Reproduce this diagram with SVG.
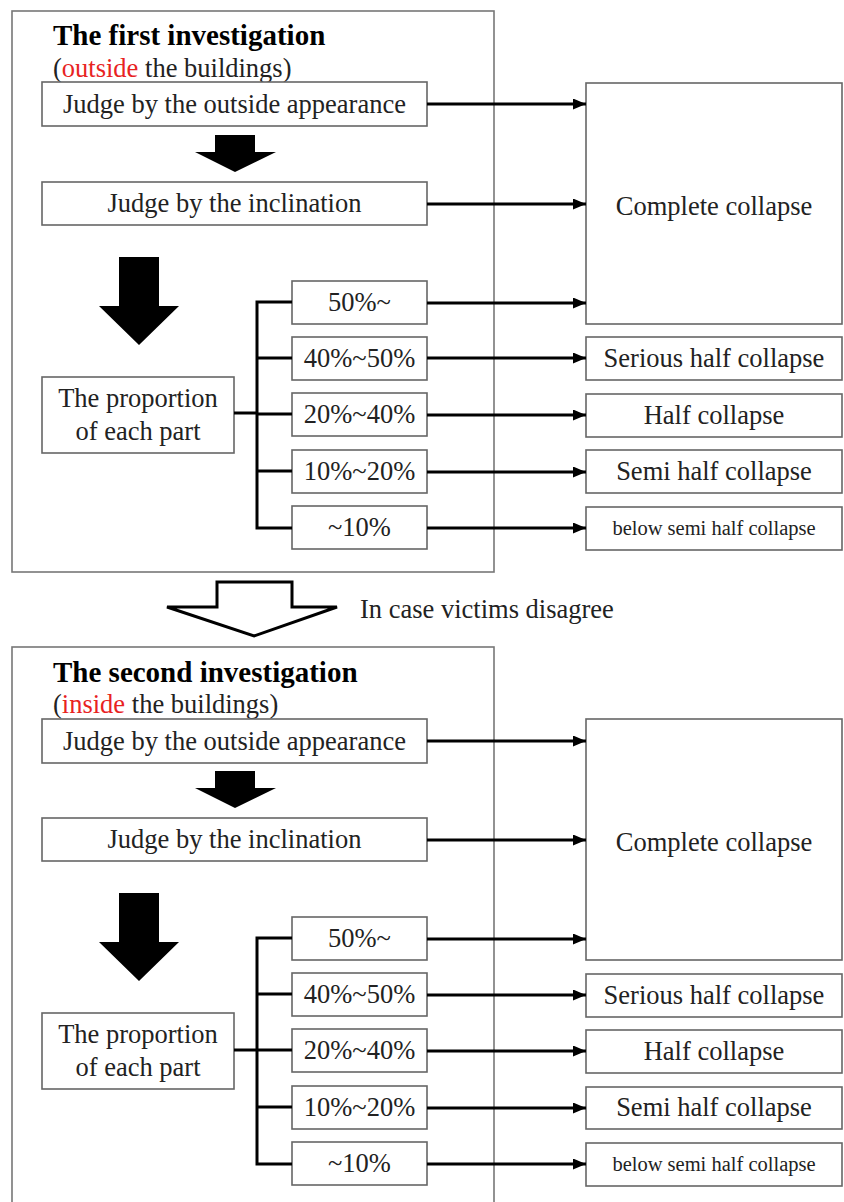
<svg xmlns="http://www.w3.org/2000/svg" width="844" height="1202" viewBox="0 0 844 1202">
<style>
  text { font-family: "Liberation Serif", "Times New Roman", serif; fill: #222; }
  .t { font-size: 26.5px; text-anchor: middle; }
  .small { font-size: 20.5px; text-anchor: middle; }
  .title { font-size: 29px; font-weight: bold; fill: #000; }
  .sub { font-size: 26.5px; }
  .red { fill: #e8231f; }
  .box { fill: #fff; stroke: #666; stroke-width: 1.6; }
  .panel { fill: none; stroke: #777; stroke-width: 1.6; }
  .conn { fill: none; stroke: #000; stroke-width: 3; }
  .arr { fill: none; stroke: #000; stroke-width: 3; marker-end: url(#ah); }
  .solid { fill: #000; }
  .hollow { fill: #fff; stroke: #000; stroke-width: 3; stroke-linejoin: miter; }
</style>
<defs>
  <marker id="ah" markerUnits="userSpaceOnUse" markerWidth="13" markerHeight="11" refX="13" refY="5.5" orient="auto">
    <path d="M0,0 L13,5.5 L0,11 z" fill="#000"/>
  </marker>
</defs>
<rect width="844" height="1202" fill="#fff"/>

<!-- Panel 1 -->
<g id="panel1">
  <rect class="panel" x="12" y="11" width="482" height="561"/>
  <text class="title" x="53" y="45">The first investigation</text>
  <text class="sub" x="53" y="77">(<tspan class="red">outside</tspan> the buildings)</text>
</g>
<g id="p1-appearance"><rect class="box" x="42" y="82" width="385" height="44"/><text class="t" x="234.5" y="113">Judge by the outside appearance</text></g>
<g id="p1-small-arrow"><polygon class="solid" points="215,135 255,135 255,152 276,152 235,172 195,152 215,152"/></g>
<g id="p1-inclination"><rect class="box" x="42" y="182" width="385" height="43"/><text class="t" x="234.5" y="212">Judge by the inclination</text></g>
<g id="p1-big-arrow"><polygon class="solid" points="119,257 159,257 159,306 179,306 139,345 99,306 119,306"/></g>
<g id="p1-proportion"><rect class="box" x="42" y="377" width="192" height="76"/><text class="t" x="138" y="407">The proportion</text><text class="t" x="138" y="440">of each part</text></g>
<g id="p1-50"><rect class="box" x="292" y="281" width="135" height="43"/><text class="t" x="359.5" y="311">50%~</text></g>
<g id="p1-40-50"><rect class="box" x="292" y="337" width="135" height="43"/><text class="t" x="359.5" y="367">40%~50%</text></g>
<g id="p1-20-40"><rect class="box" x="292" y="393" width="135" height="43"/><text class="t" x="359.5" y="423">20%~40%</text></g>
<g id="p1-10-20"><rect class="box" x="292" y="450" width="135" height="43"/><text class="t" x="359.5" y="480">10%~20%</text></g>
<g id="p1-10"><rect class="box" x="292" y="506" width="135" height="43"/><text class="t" x="359.5" y="536">~10%</text></g>
<g id="p1-complete"><rect class="box" x="586" y="83" width="256" height="241"/><text class="t" x="714" y="215">Complete collapse</text></g>
<g id="p1-serious"><rect class="box" x="586" y="337" width="256" height="43"/><text class="t" x="714" y="367">Serious half collapse</text></g>
<g id="p1-half"><rect class="box" x="586" y="394" width="256" height="43"/><text class="t" x="714" y="424">Half collapse</text></g>
<g id="p1-semi"><rect class="box" x="586" y="450" width="256" height="43"/><text class="t" x="714" y="480">Semi half collapse</text></g>
<g id="p1-below"><rect class="box" x="586" y="507" width="256" height="43"/><text class="small" x="714" y="535">below semi half collapse</text></g>

<!-- Transition -->
<g id="hollow-arrow"><polygon class="hollow" points="217,582 292,582 292,607 337,607 254,636 167,607 217,607"/></g>
<g id="disagree-label"><text class="sub" x="360" y="618">In case victims disagree</text></g>

<!-- Panel 2 -->
<g transform="translate(0,636)">
  <g id="panel2">
    <rect class="panel" x="12" y="11" width="482" height="600"/>
    <text class="title" x="53" y="46">The second investigation</text>
    <text class="sub" x="53" y="77">(<tspan class="red">inside</tspan> the buildings)</text>
  </g>
  <g id="p2-appearance"><rect class="box" x="42" y="83" width="385" height="44"/><text class="t" x="234.5" y="114">Judge by the outside appearance</text></g>
  <g id="p2-small-arrow"><polygon class="solid" points="215,135 255,135 255,152 276,152 235,172 195,152 215,152"/></g>
  <g id="p2-inclination"><rect class="box" x="42" y="182" width="385" height="43"/><text class="t" x="234.5" y="212">Judge by the inclination</text></g>
  <g id="p2-big-arrow"><polygon class="solid" points="119,257 159,257 159,306 179,306 139,345 99,306 119,306"/></g>
  <g id="p2-proportion"><rect class="box" x="42" y="377" width="192" height="76"/><text class="t" x="138" y="407">The proportion</text><text class="t" x="138" y="440">of each part</text></g>
  <g id="p2-50"><rect class="box" x="292" y="281" width="135" height="43"/><text class="t" x="359.5" y="311">50%~</text></g>
  <g id="p2-40-50"><rect class="box" x="292" y="337" width="135" height="43"/><text class="t" x="359.5" y="367">40%~50%</text></g>
  <g id="p2-20-40"><rect class="box" x="292" y="393" width="135" height="43"/><text class="t" x="359.5" y="423">20%~40%</text></g>
  <g id="p2-10-20"><rect class="box" x="292" y="450" width="135" height="43"/><text class="t" x="359.5" y="480">10%~20%</text></g>
  <g id="p2-10"><rect class="box" x="292" y="506" width="135" height="43"/><text class="t" x="359.5" y="536">~10%</text></g>
  <g id="p2-complete"><rect class="box" x="586" y="83" width="256" height="241"/><text class="t" x="714" y="215">Complete collapse</text></g>
  <g id="p2-serious"><rect class="box" x="586" y="338" width="256" height="43"/><text class="t" x="714" y="368">Serious half collapse</text></g>
  <g id="p2-half"><rect class="box" x="586" y="394" width="256" height="43"/><text class="t" x="714" y="424">Half collapse</text></g>
  <g id="p2-semi"><rect class="box" x="586" y="451" width="256" height="42"/><text class="t" x="714" y="480">Semi half collapse</text></g>
  <g id="p2-below"><rect class="box" x="586" y="507" width="256" height="43"/><text class="small" x="714" y="535">below semi half collapse</text></g>
</g>

<!-- Connectors -->
<g id="connectors">
  <g id="connectors-p1">
    <line class="arr" x1="427" y1="104" x2="586" y2="104"/>
    <line class="arr" x1="427" y1="204" x2="586" y2="204"/>
    <line class="arr" x1="427" y1="303" x2="586" y2="303"/>
    <line class="arr" x1="427" y1="358" x2="586" y2="358"/>
    <line class="arr" x1="427" y1="415" x2="586" y2="415"/>
    <line class="arr" x1="427" y1="472" x2="586" y2="472"/>
    <line class="arr" x1="427" y1="528" x2="586" y2="528"/>
    <line class="conn" x1="234" y1="413" x2="257" y2="413"/>
    <polyline class="conn" points="292,302 257,302 257,528 292,528"/>
    <line class="conn" x1="257" y1="358" x2="292" y2="358"/>
    <line class="conn" x1="257" y1="414" x2="292" y2="414"/>
    <line class="conn" x1="257" y1="471" x2="292" y2="471"/>
  </g>
  <g id="connectors-p2" transform="translate(0,636)">
    <line class="arr" x1="427" y1="105" x2="586" y2="105"/>
    <line class="arr" x1="427" y1="204" x2="586" y2="204"/>
    <line class="arr" x1="427" y1="303" x2="586" y2="303"/>
    <line class="arr" x1="427" y1="359" x2="586" y2="359"/>
    <line class="arr" x1="427" y1="415" x2="586" y2="415"/>
    <line class="arr" x1="427" y1="472" x2="586" y2="472"/>
    <line class="arr" x1="427" y1="528" x2="586" y2="528"/>
    <line class="conn" x1="234" y1="414" x2="257" y2="414"/>
    <polyline class="conn" points="292,302 257,302 257,528 292,528"/>
    <line class="conn" x1="257" y1="358" x2="292" y2="358"/>
    <line class="conn" x1="257" y1="414" x2="292" y2="414"/>
    <line class="conn" x1="257" y1="471" x2="292" y2="471"/>
  </g>
</g>
</svg>
